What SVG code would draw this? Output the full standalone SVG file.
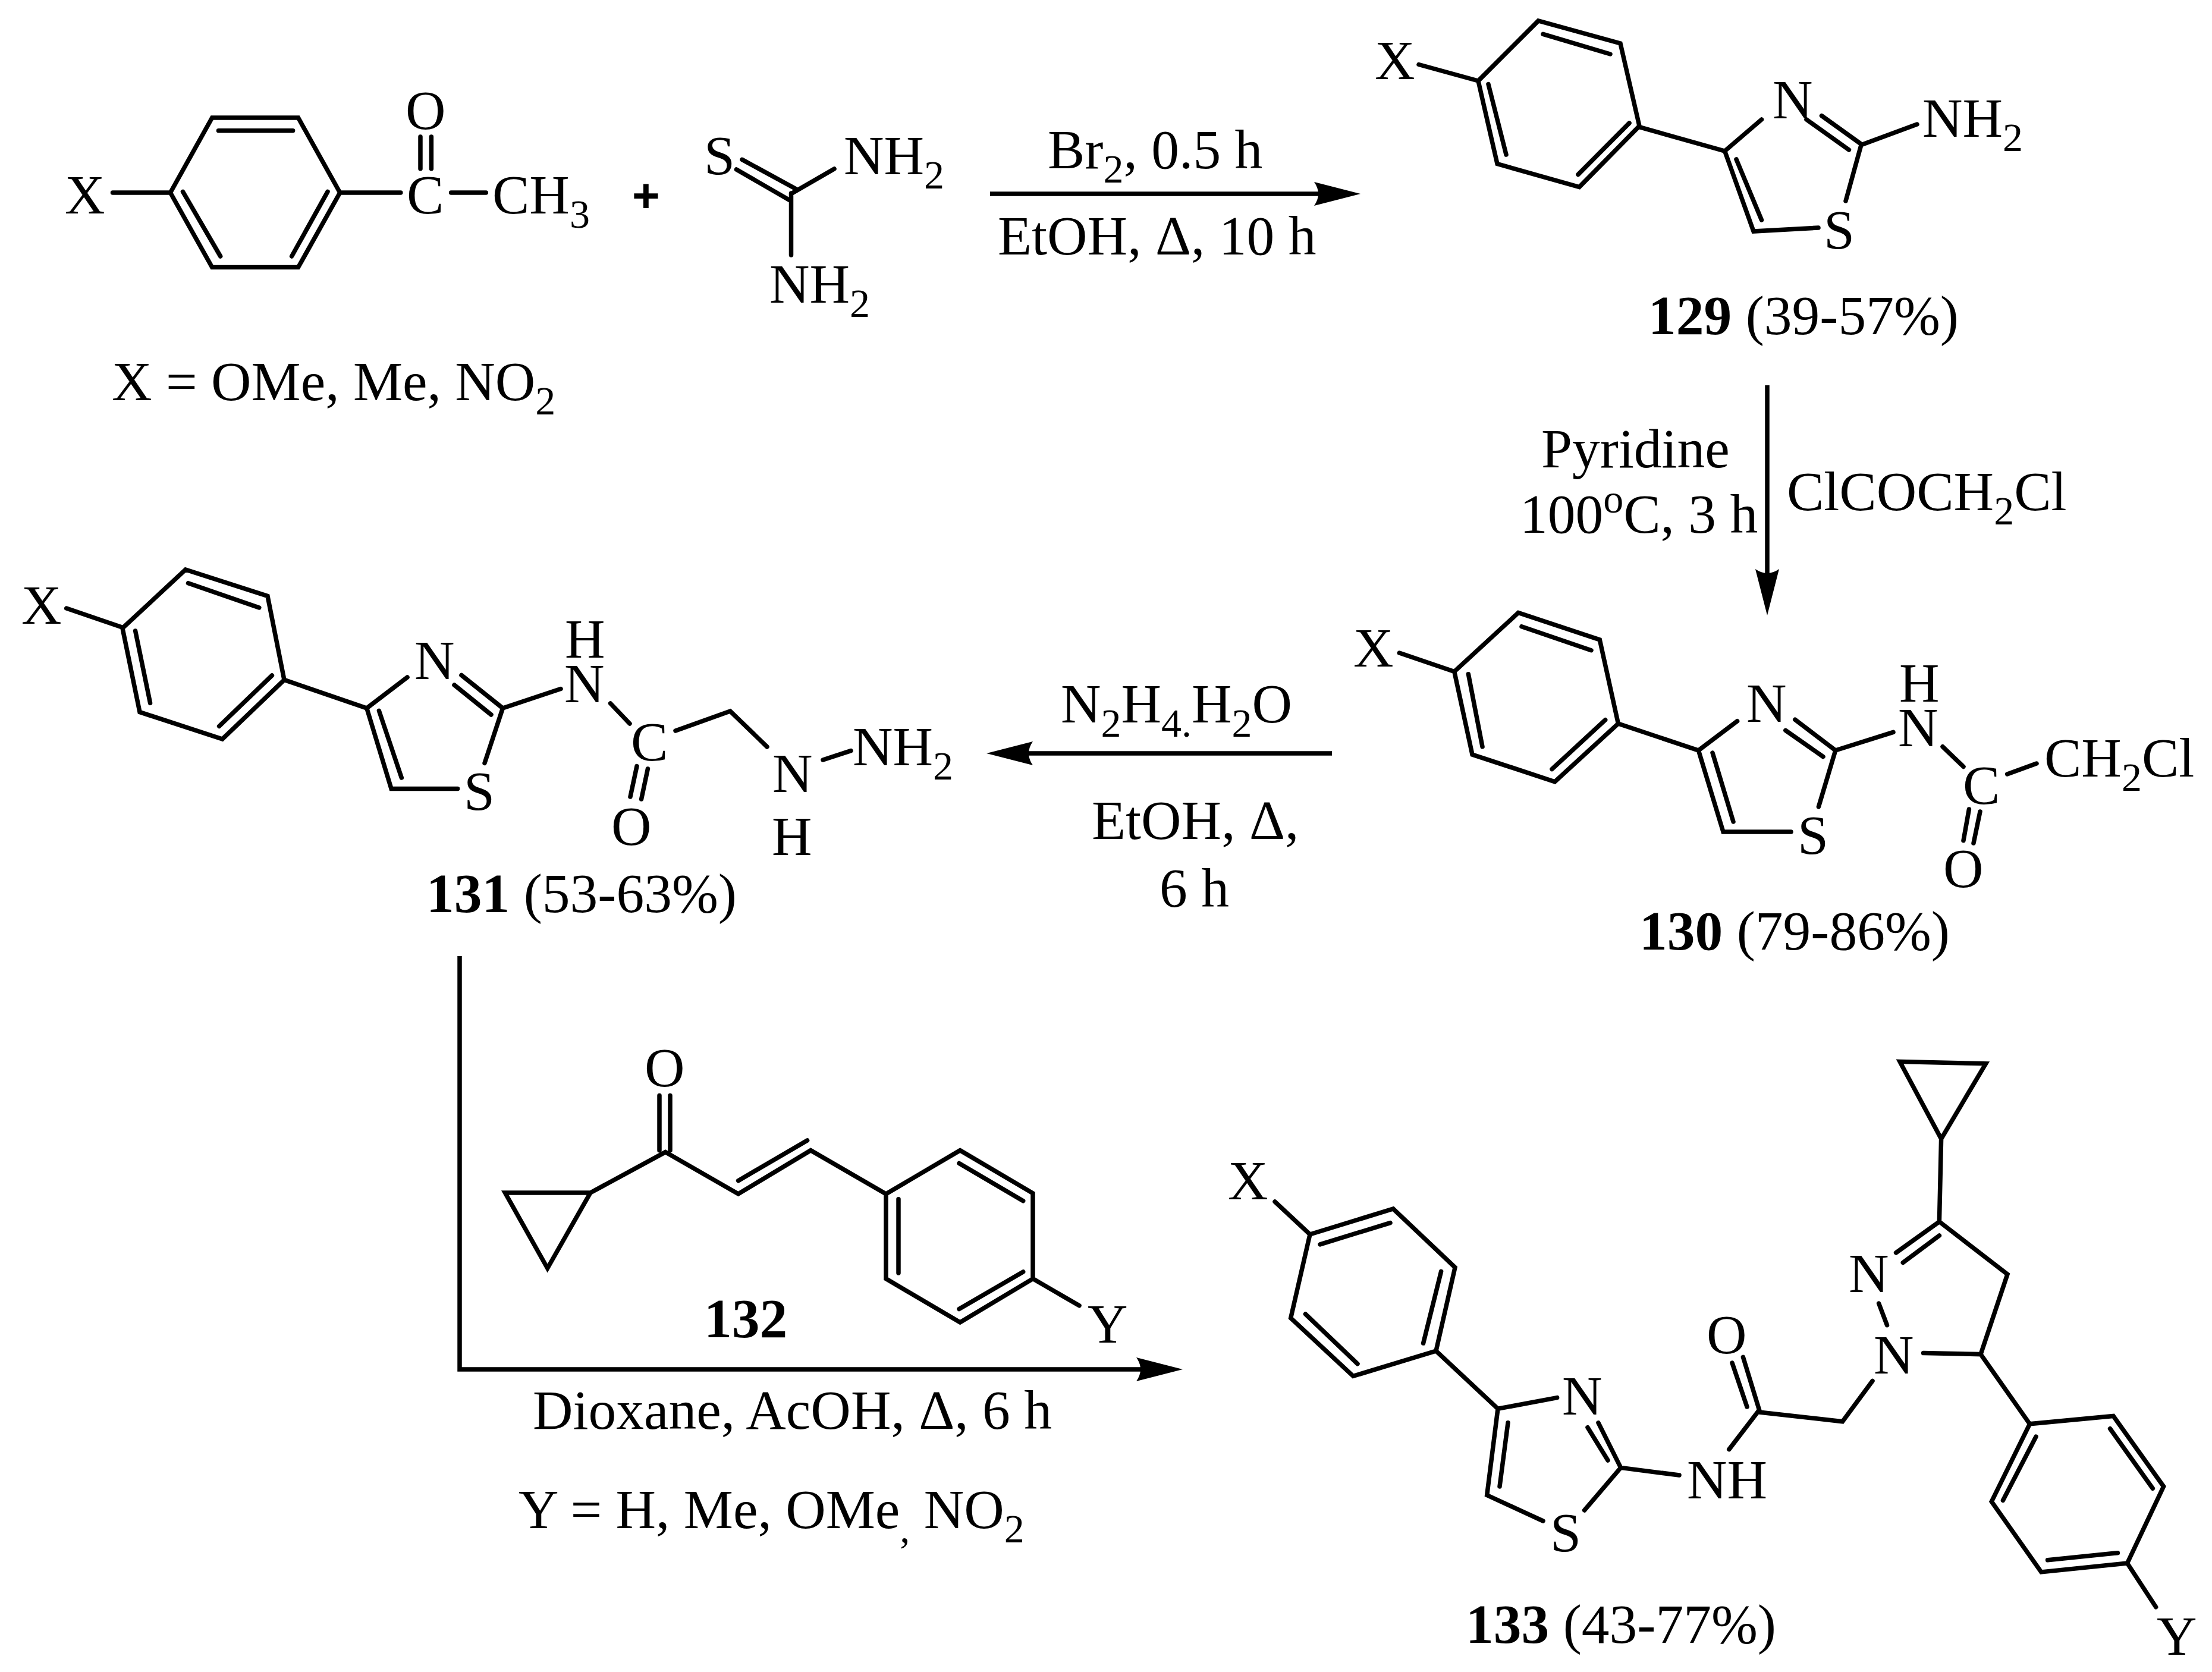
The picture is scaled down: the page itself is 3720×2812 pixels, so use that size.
<svg xmlns="http://www.w3.org/2000/svg" width="3720" height="2812" viewBox="0 0 3720 2812">
<style>
text{font-family:"Liberation Serif","Times New Roman",serif;font-size:93.500px;fill:#000;white-space:pre}
.s{font-size:68px}
.b{font-weight:bold}
.plus{font-family:"Liberation Sans",Arial,sans-serif;font-weight:bold;font-size:80px}
.bond{fill:none;stroke:#000;stroke-width:7.500;stroke-linecap:round;stroke-linejoin:miter}
.arrow{fill:none;stroke:#000;stroke-width:7.500}
</style>
<defs>
<marker id="head" markerUnits="userSpaceOnUse" viewBox="0 0 80 40" refX="30" refY="20" markerWidth="80" markerHeight="40" orient="auto"><path d="M0 0L78 20L0 40Q14 20 0 0Z" fill="#000"/></marker>
</defs>
<rect width="3720" height="2812" fill="#fff"/>
<g id="connectors">
<path class="arrow" d="M1665 326H2240" marker-end="url(#head)"/>
<path class="arrow" d="M2972 648V987" marker-end="url(#head)"/>
<path class="arrow" d="M2240 1267H1707" marker-end="url(#head)"/>
<path class="arrow" d="M773 1608V2303H1941" marker-end="url(#head)"/>
</g>
<g id="acetophenone">
<path class="bond" d="M286.500 324L356.700 198H501.500L571.700 324L501.500 449.600H356.700ZM367.500 219.700H492.600M307.500 322.400L370.700 431M551 322.400L490.600 431M189.500 324H286.500M571.700 324H673.800M758.600 324H817.300M707 230V283.700M725.400 230V283.700"/>
<text x="109" y="358.700">X</text><text x="682" y="216.500">O</text><text x="684" y="358.700">C</text>
<text x="828" y="358.700">CH<tspan class="s" dy="24">3</tspan></text>
<text x="188" y="672.800">X = OMe, Me, NO<tspan class="s" dy="24">2</tspan></text>
</g>
<g id="plus"><text class="plus" x="1063" y="356">+</text></g>
<g id="thiourea">
<path class="bond" d="M1248 268.400L1339 318M1238.400 285L1328 336.700M1332 325L1403 284M1330.500 325V429"/>
<text x="1184" y="293">S</text><text x="1419" y="293">NH<tspan class="s" dy="24">2</tspan></text><text x="1294" y="509">NH<tspan class="s" dy="24">2</tspan></text>
</g>
<g id="cond-1">
<text x="1762" y="282.600">Br<tspan class="s" dy="24">2</tspan><tspan dy="-24">, 0.5 h</tspan></text>
<text x="1678" y="427.500">EtOH, Δ, 10 h</text>
</g>
<g id="compound-129">
<path class="bond" d="M2486 136L2587 35L2725 73L2757 212L2656 314.500L2518 275.600ZM2595 57.400L2708 91M2503 141.600L2533 260M2740 207L2654 293.500M2386 108.500L2486 136M2757 213.700L2900.600 254L2962.500 201M3063.500 194.600L3130 242.400M3038 201L3109.400 252M3130 243.700L3224 209M3130 243.700L3104 338M3058 383L2949 389L2900.600 254M2920 268L2962.500 370"/>
<text x="2312" y="132.700">X</text><text x="2981" y="199">N</text><text x="3233" y="229.700">NH<tspan class="s" dy="24">2</tspan></text><text x="3067" y="418">S</text>
<text x="2772" y="561.500"><tspan class="b">129</tspan> (39-57%)</text>
</g>
<g id="cond-2">
<text x="2592" y="786">Pyridine</text>
<text x="2556" y="896.400">100<tspan class="s" dy="-34">o</tspan><tspan dy="34">C, 3 h</tspan></text>
<text x="3005" y="858">ClCOCH<tspan class="s" dy="24">2</tspan><tspan dy="-24">Cl</tspan></text>
</g>
<g id="compound-130">
<path class="bond" d="M2445.800 1129.500L2553.400 1030.500L2690.300 1076L2721.400 1217L2614.800 1314.700L2476 1269ZM2559 1053.700L2676 1093.700M2469.400 1133.700L2493 1255.800M2699.700 1210.700L2610 1293.600M2353.300 1098L2445.800 1129.500M2721.400 1217L2856.400 1262L2921.600 1212.800M3018.800 1210.300L3086.800 1262M3002.800 1228.400L3066 1272.600M3086.800 1262L3184 1231.300M3086.800 1262L3058.400 1356.800M3012 1399H2898L2856.400 1262M2880 1266L2915 1382M3267 1255.800L3302 1289.400M3375.600 1302L3425 1284M3311.400 1361L3302 1413.600M3330 1365L3319 1418"/>
<text x="2276" y="1121">X</text><text x="2937" y="1214">N</text><text x="3023" y="1435.500">S</text><text x="3194" y="1180">H</text><text x="3192" y="1254.500">N</text><text x="3301" y="1352">C</text><text x="3268" y="1491.500">O</text>
<text x="3438" y="1306">CH<tspan class="s" dy="24">2</tspan><tspan dy="-24">Cl</tspan></text>
<text x="2757" y="1596.800"><tspan class="b">130</tspan> (79-86%)</text>
</g>
<g id="cond-3">
<text x="1784" y="1215">N<tspan class="s" dy="24">2</tspan><tspan dy="-24">H</tspan><tspan class="s" dy="24">4.</tspan><tspan dy="-24">H</tspan><tspan class="s" dy="24">2</tspan><tspan dy="-24">O</tspan></text>
<text x="1836" y="1411">EtOH, Δ,</text>
<text x="1950" y="1525">6 h</text>
</g>
<g id="compound-131">
<path class="bond" d="M206 1056.600L312 958L450 1002.400L478 1143.400L374 1243L235 1197.600ZM316.500 980.700L435.800 1022M227.600 1061L252.600 1182.400M457.400 1136L368.600 1221.400M111.700 1023L206 1055.300M478 1143.400L616.800 1191L685 1139M776 1135.500L845.500 1191M764 1152L826 1202M845.500 1191L943 1158.500M845.500 1191L815 1283.400M769.600 1326.400H658L616.800 1191M637.400 1195.400L675.300 1308M1026.600 1183L1059 1217M1136 1229L1228 1196L1290 1256M1384 1278L1431 1262.600M1071 1288.600L1060 1340M1089.400 1293L1078.600 1344"/>
<text x="36" y="1049">X</text><text x="697" y="1142">N</text><text x="780" y="1361.500">S</text><text x="950" y="1106">H</text><text x="949" y="1181">N</text><text x="1061" y="1279">C</text><text x="1028" y="1421">O</text><text x="1299" y="1332">N</text><text x="1298" y="1438">H</text>
<text x="1434" y="1286.500">NH<tspan class="s" dy="24">2</tspan></text>
<text x="717" y="1533.700"><tspan class="b">131</tspan> (53-63%)</text>
</g>
<g id="compound-132">
<path class="bond" d="M849.400 2006H992.900L920.700 2133ZM992.900 2006L1119 1937.600L1241.600 2008L1363.400 1934.700L1490 2008M1109 1842.600V1934.700M1127 1842.600V1934.700M1241.600 1985.700L1357.600 1918M1490 2008L1614.600 1934.700L1737 2006.800V2150.600L1614.600 2224L1490 2150.600ZM1613 1956.400L1720.700 2019.700M1511 2016.800V2141M1720.700 2138.900L1613 2201.600M1737 2150.600L1815 2195.800"/>
<text x="1084" y="1827">O</text><text x="1829" y="2258">Y</text>
<text class="b" x="1184" y="2248.600">132</text>
</g>
<g id="cond-4">
<text x="896" y="2403">Dioxane, AcOH, Δ, 6 h</text>
<text x="872" y="2570">Y = H, Me, OMe<tspan class="s" dy="24">,</tspan><tspan dy="-24"> NO</tspan><tspan class="s" dy="24">2</tspan></text>
</g>
<g id="compound-133">
<path class="bond" d="M2203 2076L2343 2033L2447 2131.600L2415 2272L2275.700 2314.400L2170.700 2216.700ZM2220 2092.800L2338 2056.600M2423.600 2138.300L2393.600 2259M2195.400 2210L2283 2293.700M2144 2021L2203 2076M2415 2272L2519 2369.300L2618.600 2350.600M2688 2392.800L2725.700 2468.400M2670 2400.800L2704 2456M2725.700 2468.400L2824 2481M2725.700 2468.400L2664.600 2540M2595 2558L2500.700 2514.600L2519 2369.300M2536 2392.800L2522 2500M2907.800 2437.600L2956 2374.700L3098.600 2390.800L3149 2322.500M2959 2372.700L2931.400 2282.300M2938 2366L2913 2292M3159.600 2192L3173.500 2228.700M3234.600 2275.600L3331 2277.600L3376 2143L3261.400 2054.600L3188.600 2106.900M3261.400 2078L3200.300 2123.600M3261.400 2054.600L3264.600 1915.300M3195 1785.400L3339.600 1788.800L3264.600 1915.300ZM3331 2277.600L3413.500 2394.800L3554 2381.400L3638.600 2500L3577.500 2629L3432.800 2643.900L3349.300 2525.400L3413.500 2394.800M3548.600 2402.800L3620.300 2503.300M3561.400 2611.700L3443.600 2623.800M3368.500 2523.300L3424 2416.200M3577.500 2629L3625.700 2702.800"/>
<text x="2065" y="2017">X</text><text x="2627" y="2379.400">N</text><text x="2837" y="2520">NH</text><text x="2607" y="2609">S</text><text x="2870" y="2275.600">O</text><text x="3151" y="2310">N</text><text x="3109" y="2173">N</text><text x="3627" y="2782.500">Y</text>
<text x="2465" y="2763"><tspan class="b">133</tspan> (43-77%)</text>
</g>
</svg>
